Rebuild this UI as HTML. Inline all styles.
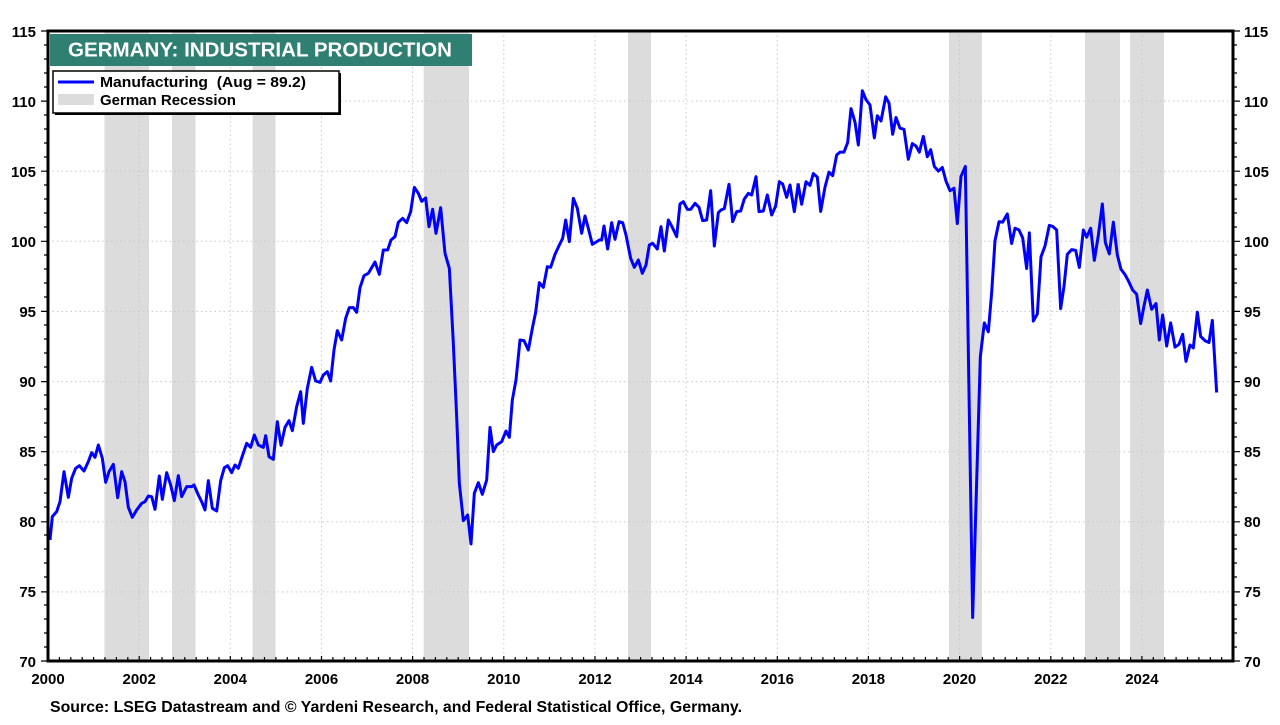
<!DOCTYPE html>
<html><head><meta charset="utf-8"><style>
body{margin:0;background:#fff;}
svg text{font-family:"Liberation Sans",Arial,sans-serif;font-weight:bold;}
</style></head><body>
<svg width="1280" height="720" viewBox="0 0 1280 720" xmlns="http://www.w3.org/2000/svg">
<rect width="1280" height="720" fill="#fff"/>
<g fill="#dcdcdc">
<rect x="104.5" y="31" width="44.5" height="630"/>
<rect x="172" y="31" width="23.5" height="630"/>
<rect x="252.6" y="31" width="22.9" height="630"/>
<rect x="423.7" y="31" width="45.3" height="630"/>
<rect x="628" y="31" width="23" height="630"/>
<rect x="949" y="31" width="33" height="630"/>
<rect x="1085" y="31" width="35" height="630"/>
<rect x="1130" y="31" width="34" height="630"/>
</g>
<g stroke="#c8c8c8" stroke-width="1" stroke-dasharray="1.5,3">
<line x1="48" x2="1233" y1="101.1" y2="101.1"/>
<line x1="48" x2="1233" y1="171.2" y2="171.2"/>
<line x1="48" x2="1233" y1="241.3" y2="241.3"/>
<line x1="48" x2="1233" y1="311.4" y2="311.4"/>
<line x1="48" x2="1233" y1="381.6" y2="381.6"/>
<line x1="48" x2="1233" y1="451.7" y2="451.7"/>
<line x1="48" x2="1233" y1="521.8" y2="521.8"/>
<line x1="48" x2="1233" y1="591.9" y2="591.9"/>
<line x1="139.2" x2="139.2" y1="31" y2="661"/>
<line x1="230.3" x2="230.3" y1="31" y2="661"/>
<line x1="321.5" x2="321.5" y1="31" y2="661"/>
<line x1="412.6" x2="412.6" y1="31" y2="661"/>
<line x1="503.8" x2="503.8" y1="31" y2="661"/>
<line x1="595" x2="595" y1="31" y2="661"/>
<line x1="686.1" x2="686.1" y1="31" y2="661"/>
<line x1="777.3" x2="777.3" y1="31" y2="661"/>
<line x1="868.4" x2="868.4" y1="31" y2="661"/>
<line x1="959.6" x2="959.6" y1="31" y2="661"/>
<line x1="1050.8" x2="1050.8" y1="31" y2="661"/>
<line x1="1141.9" x2="1141.9" y1="31" y2="661"/>
</g>
<g fill="none" stroke="#0000ff" stroke-width="3" stroke-linejoin="round">
<polyline vector-effect="non-scaling-stroke" transform="translate(45,170) scale(0.33333)" points="15,1110 22,1040 35,1025 45,995 57,905 70,982 80,925 92,895 103,887 117,903 130,875 140,848 150,862 160,825 172,865 182,937 192,905 205,883 218,983 230,905 240,935 250,1012 262,1042 275,1020 290,1000 300,995 310,978 320,980 330,1018 343,918 352,988 365,908 377,945 388,992 400,917 410,980 425,950 440,950 447,945 460,975 470,995 480,1020 490,932 502,1015 515,1023 527,932 538,893 548,887 560,908 570,885 580,895 592,858 605,820 617,832 628,795 640,825 655,832 662,797 672,860 685,868 697,755 708,826 720,772 732,752 742,782 755,710 767,665 775,760 787,655 800,592 812,633 825,637 835,615 847,605 857,633 867,540 877,482 890,510 902,445 913,413 925,413 935,427 945,353 957,317 970,310 990,276 1003,313 1015,240 1028,240 1038,210 1050,200 1060,157 1073,145 1085,158 1097,125 1108,52 1120,70 1130,94 1142,84 1152,170 1163,118 1173,190 1187,113 1200,250"/>
<polyline vector-effect="non-scaling-stroke" transform="translate(400,150) scale(0.33333)" points="135,310 148,355 160,580 170,800 178,1000 190,1112 203,1095 213,1182 223,1030 235,998 247,1033 260,990 270,832 280,905 290,885 305,875 318,843 328,862 337,750 348,690 360,570 372,572 385,600 398,530 407,487 418,398 430,412 442,350 452,352 465,313 478,285 488,265 497,210 508,275 520,145 532,175 545,250 555,198 565,235 577,283 587,277 598,270 605,270 612,228 623,297 635,218 645,268 657,215 668,218 678,255 692,325 703,352 715,330 727,370 738,345 748,285 758,280 772,297 783,230 793,303 805,210 817,232 830,260 840,162 850,155 862,178 872,178 885,160 897,172 908,212 920,210 932,122 943,288 955,188 963,180 973,176 987,103 998,215 1010,185 1022,183 1033,147 1045,130 1055,135 1068,80 1077,185 1090,183 1102,135 1115,195 1127,168 1138,95 1148,102 1160,142 1170,105 1183,185 1195,100"/>
<polyline vector-effect="non-scaling-stroke" transform="translate(780,80) scale(0.33333,0.35714)" points="54,290 65,348 78,285 90,295 100,262 112,272 122,368 135,300 147,258 158,268 170,210 180,202 192,202 203,175 213,80 225,118 235,182 247,30 258,55 270,70 283,162 292,100 303,115 317,47 327,65 338,152 348,105 360,135 372,138 385,222 397,178 408,185 418,202 430,158 442,215 452,195 463,242 475,255 487,245 498,283 510,310 522,303 532,402 543,270 556,242 578,1505 601,775 613,680 625,705 635,595 645,450 657,397 668,398 682,375 695,458 705,415 717,420 728,442 740,528 748,428 760,675 772,655 783,495 795,465 808,407 818,410 830,420 842,640 852,578 862,488 875,475 887,477 898,525 910,420 920,440 932,415 943,505 955,435 967,347 976,455 988,487 1000,398 1012,490 1023,530 1035,545 1045,562 1058,588 1070,600 1082,682 1092,633 1102,588 1115,642 1128,626 1138,728 1148,658 1160,745 1172,680 1185,748 1197,740 1208,712 1218,788 1230,742 1240,750 1252,650 1262,718 1275,730 1287,735 1297,673 1310,875"/>
</g>
<rect x="48" y="31" width="1185" height="630" fill="none" stroke="#000" stroke-width="3"/>
<g stroke="#000" stroke-width="1.2">
<path d="M41 31H48M41 101.1H48M41 171.2H48M41 241.3H48M41 311.4H48M41 381.6H48M41 451.7H48M41 521.8H48M41 591.9H48M41 661H48"/>
<path d="M1233 31H1240M1233 101.1H1240M1233 171.2H1240M1233 241.3H1240M1233 311.4H1240M1233 381.6H1240M1233 451.7H1240M1233 521.8H1240M1233 591.9H1240M1233 661H1240"/>
<path d="M44 45H48M44 59H48M44 73H48M44 87H48M44 115H48M44 129H48M44 143H48M44 157H48M44 185H48M44 199H48M44 213H48M44 227H48M44 255H48M44 269H48M44 283H48M44 297H48M44 325H48M44 339H48M44 353H48M44 367H48M44 395H48M44 409H48M44 423H48M44 437H48M44 465H48M44 479H48M44 493H48M44 507H48M44 535H48M44 549H48M44 563H48M44 577H48M44 605H48M44 619H48M44 633H48M44 647H48"/>
<path d="M1233 45h4M1233 59h4M1233 73h4M1233 87h4M1233 115h4M1233 129h4M1233 143h4M1233 157h4M1233 185h4M1233 199h4M1233 213h4M1233 227h4M1233 255h4M1233 269h4M1233 283h4M1233 297h4M1233 325h4M1233 339h4M1233 353h4M1233 367h4M1233 395h4M1233 409h4M1233 423h4M1233 437h4M1233 465h4M1233 479h4M1233 493h4M1233 507h4M1233 535h4M1233 549h4M1233 563h4M1233 577h4M1233 605h4M1233 619h4M1233 633h4M1233 647h4"/>
</g>
<g stroke="#000" stroke-width="1.2">
<path d="M59.4 661v-4M70.8 661v-4M82.2 661v-4M93.6 661v-4M105 661v-4M116.4 661v-4M127.8 661v-4M139.2 661v-5M150.6 661v-4M162 661v-4M173.4 661v-4M184.8 661v-4M196.2 661v-4M207.6 661v-4M219 661v-4M230.3 661v-5M241.7 661v-4M253.1 661v-4M264.5 661v-4M275.9 661v-4M287.3 661v-4M298.7 661v-4M310.1 661v-4M321.5 661v-5M332.9 661v-4M344.3 661v-4M355.7 661v-4M367.1 661v-4M378.5 661v-4M389.9 661v-4M401.3 661v-4M412.6 661v-5M424 661v-4M435.4 661v-4M446.8 661v-4M458.2 661v-4M469.6 661v-4M481 661v-4M492.4 661v-4M503.8 661v-5M515.2 661v-4M526.6 661v-4M538 661v-4M549.4 661v-4M560.8 661v-4M572.2 661v-4M583.6 661v-4M595 661v-5M606.4 661v-4M617.8 661v-4M629.2 661v-4M640.6 661v-4M652 661v-4M663.4 661v-4M674.8 661v-4M686.1 661v-5M697.5 661v-4M708.9 661v-4M720.3 661v-4M731.7 661v-4M743.1 661v-4M754.5 661v-4M765.9 661v-4M777.3 661v-5M788.7 661v-4M800.1 661v-4M811.5 661v-4M822.9 661v-4M834.3 661v-4M845.7 661v-4M857.1 661v-4M868.4 661v-5M879.8 661v-4M891.2 661v-4M902.6 661v-4M914 661v-4M925.4 661v-4M936.8 661v-4M948.2 661v-4M959.6 661v-5M971 661v-4M982.4 661v-4M993.8 661v-4M1005.2 661v-4M1016.6 661v-4M1028 661v-4M1039.4 661v-4M1050.8 661v-5M1062.2 661v-4M1073.6 661v-4M1085 661v-4M1096.4 661v-4M1107.8 661v-4M1119.2 661v-4M1130.6 661v-4M1141.9 661v-5M1153.3 661v-4M1164.7 661v-4M1176.1 661v-4M1187.5 661v-4M1198.9 661v-4M1210.3 661v-4M1221.7 661v-4"/>
</g>
<g font-size="15" text-anchor="end">
<text x="36" y="37">115</text><text x="36" y="107">110</text><text x="36" y="177">105</text><text x="36" y="247">100</text><text x="36" y="317">95</text><text x="36" y="387">90</text><text x="36" y="457">85</text><text x="36" y="527">80</text><text x="36" y="597">75</text><text x="36" y="667">70</text>
</g>
<g font-size="15" text-anchor="start">
<text x="1244" y="37">115</text><text x="1244" y="107">110</text><text x="1244" y="177">105</text><text x="1244" y="247">100</text><text x="1244" y="317">95</text><text x="1244" y="387">90</text><text x="1244" y="457">85</text><text x="1244" y="527">80</text><text x="1244" y="597">75</text><text x="1244" y="667">70</text>
</g>
<g font-size="15" text-anchor="middle">
<text x="48" y="684">2000</text><text x="139.2" y="684">2002</text><text x="230.3" y="684">2004</text><text x="321.5" y="684">2006</text><text x="412.6" y="684">2008</text><text x="503.8" y="684">2010</text><text x="595" y="684">2012</text><text x="686.1" y="684">2014</text><text x="777.3" y="684">2016</text><text x="868.4" y="684">2018</text><text x="959.6" y="684">2020</text><text x="1050.8" y="684">2022</text><text x="1141.9" y="684">2024</text>
</g>
<text x="50" y="712" font-size="15.5" textLength="692" lengthAdjust="spacingAndGlyphs">Source: LSEG Datastream and © Yardeni Research, and Federal Statistical Office, Germany.</text>
<rect x="50" y="34" width="422" height="32" fill="#2f7f72"/>
<text x="68" y="56.5" font-size="20" fill="#fff" textLength="384" lengthAdjust="spacingAndGlyphs">GERMANY: INDUSTRIAL PRODUCTION</text>
<rect x="55" y="73" width="286" height="42" fill="#000"/>
<rect x="53" y="71" width="286" height="42" fill="#fff" stroke="#000" stroke-width="1.5"/>
<line x1="58" x2="94" y1="82" y2="82" stroke="#0000ff" stroke-width="3"/>
<rect x="58" y="94" width="36" height="11" fill="#dcdcdc"/>
<text x="100" y="87" font-size="15" textLength="206" lengthAdjust="spacingAndGlyphs">Manufacturing&#160; (Aug = 89.2)</text>
<text x="100" y="105" font-size="15">German Recession</text>
</svg>
</body></html>
